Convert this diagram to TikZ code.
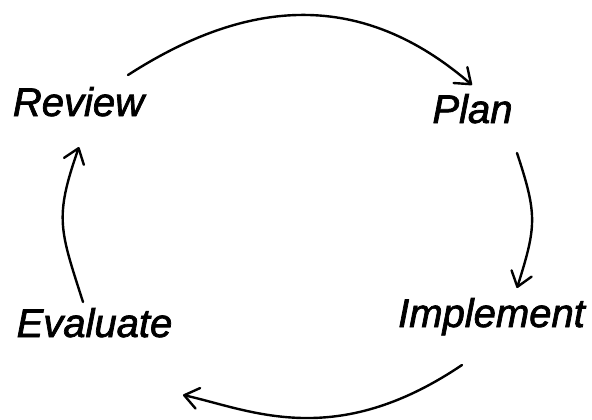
\documentclass[tikz,border=0pt]{standalone}
\usepackage{fontspec}
\setmainfont{Liberation Sans}
\newfontfamily\lblfont{Liberation Sans}[ItalicFeatures={FakeBold=1.8}]
\usetikzlibrary{arrows.meta}
\begin{document}
\begin{tikzpicture}[x=1pt,y=-1pt,
  lbl/.style={font=\lblfont\fontsize{40}{44}\selectfont\itshape, anchor=base, inner sep=0pt},
  cyc/.style={line width=2.4pt, line cap=round, -{Straight Barb[length=14pt,width=21pt,round]}}]
\useasboundingbox (0,0) rectangle (592,420);
\node[lbl] (review) at (78.5,116) {Review};
\node[lbl] (plan) at (472.5,123) {Plan};
\node[lbl] (implement) at (491.5,327) {Implement};
\node[lbl] (evaluate) at (94.5,337) {Evaluate};
% arc end points
\coordinate (rvS) at (128,75);
\coordinate (plE) at (472,85);
\coordinate (plS) at (517,153);
\coordinate (imE) at (517,288);
\coordinate (imS) at (462,365);
\coordinate (evE) at (183,395);
\coordinate (evS) at (83,302);
\coordinate (rvE) at (79,147);
\draw[cyc] (rvS) .. controls (249,-3) and (362,-10) .. (plE);
\draw[cyc] (plS) .. controls (537.5,215) and (536.5,226) .. (imE);
\draw[cyc] (imS) .. controls (334.5,451) and (250.5,410) .. (evE);
\draw[cyc] (evS) .. controls (60,230) and (54,218) .. (rvE);
\end{tikzpicture}
\end{document}
